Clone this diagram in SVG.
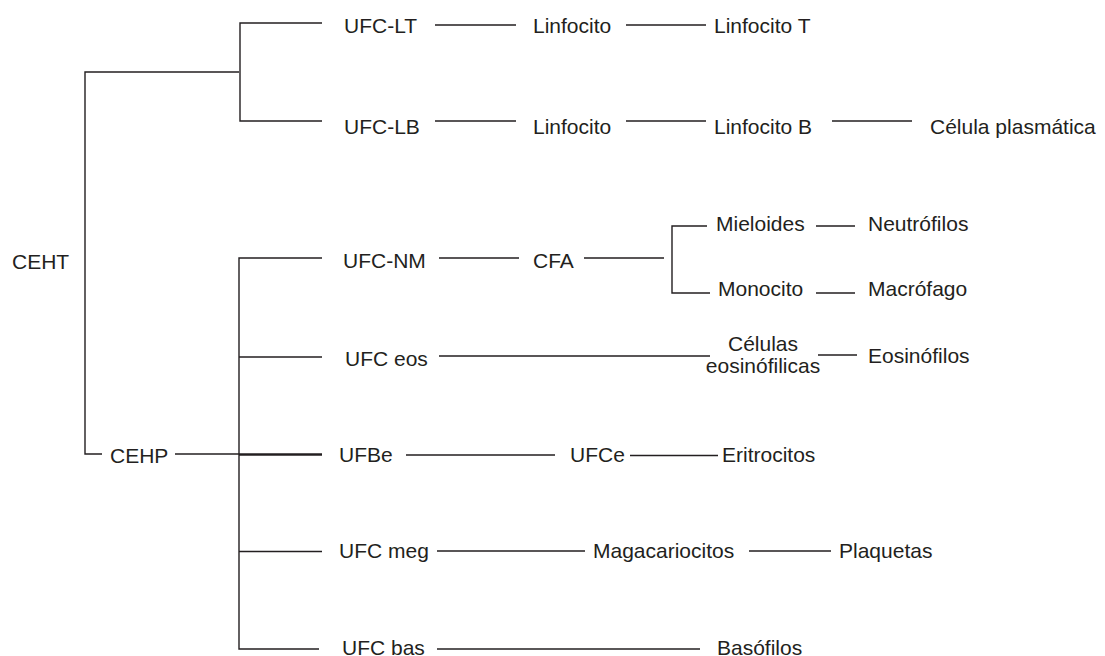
<svg xmlns="http://www.w3.org/2000/svg" width="1105" height="656" viewBox="0 0 1105 656">
<style>
text{font-family:"Liberation Sans",Arial,sans-serif;font-size:21px;fill:#231f20}
.c{fill:none;stroke:#231f20;stroke-width:1.4}
.t{fill:none;stroke:#231f20;stroke-width:2.6}
.m{text-anchor:middle}
</style>
<rect width="1105" height="656" fill="#fff"/>
<g id="connectors">
<path class="c" d="M239,72 H85 V454 H102"/>
<path class="c" d="M322,23 H240 V121 H322"/>
<path class="c" d="M435,25 H516 M626,25 H706"/>
<path class="c" d="M435,121 H516 M626,121 H706 M832,121 H912"/>
<path class="c" d="M322,258 H239 V649 H319 M239,357 H322 M239,551.5 H322"/>
<path class="c" d="M175,454 H239"/>
<path class="t" d="M239,454.5 H322"/>
<path class="c" d="M439,258 H519 M584,258 H664"/>
<path class="c" d="M707,226 H672 V293 H710"/>
<path class="c" d="M816,226 H855 M816,293 H855"/>
<path class="c" d="M439,356 H710 M818,355 H857"/>
<path class="c" d="M406,455 H555 M630,455.5 H718"/>
<path class="c" d="M437,551 H585 M749,551 H831"/>
<path class="c" d="M437,649 H700"/>
</g>
<g id="ceht"><text x="12" y="269">CEHT</text></g>
<g id="ufc-lt"><text x="344" y="33">UFC-LT</text></g>
<g id="linfocito-1"><text x="533" y="33">Linfocito</text></g>
<g id="linfocito-t"><text x="714" y="33">Linfocito T</text></g>
<g id="ufc-lb"><text x="344" y="134">UFC-LB</text></g>
<g id="linfocito-2"><text x="533" y="134">Linfocito</text></g>
<g id="linfocito-b"><text x="714" y="134">Linfocito B</text></g>
<g id="celula-plasmatica"><text x="930" y="134">Célula plasmática</text></g>
<g id="ufc-nm"><text x="343" y="268">UFC-NM</text></g>
<g id="cfa"><text x="533" y="268">CFA</text></g>
<g id="mieloides"><text x="716" y="231">Mieloides</text></g>
<g id="neutrofilos"><text x="868" y="231">Neutrófilos</text></g>
<g id="monocito"><text x="718" y="296">Monocito</text></g>
<g id="macrofago"><text x="868" y="296">Macrófago</text></g>
<g id="ufc-eos"><text x="345" y="366">UFC eos</text></g>
<g id="celulas-eosinofilicas"><text class="m" x="763" y="351">Células</text><text class="m" x="763" y="373">eosinófilicas</text></g>
<g id="eosinofilos"><text x="868" y="363">Eosinófilos</text></g>
<g id="cehp"><text x="110" y="463">CEHP</text></g>
<g id="ufbe"><text x="339" y="462">UFBe</text></g>
<g id="ufce"><text x="570" y="462">UFCe</text></g>
<g id="eritrocitos"><text x="722" y="462">Eritrocitos</text></g>
<g id="ufc-meg"><text x="339" y="558">UFC meg</text></g>
<g id="magacariocitos"><text x="593" y="558">Magacariocitos</text></g>
<g id="plaquetas"><text x="839" y="558">Plaquetas</text></g>
<g id="ufc-bas"><text x="342" y="655">UFC bas</text></g>
<g id="basofilos"><text x="717" y="655">Basófilos</text></g>
</svg>
